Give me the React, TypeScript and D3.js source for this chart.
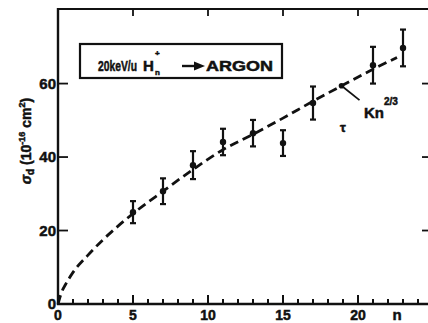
import * as d3 from "d3";

// ── Data ──────────────────────────────────────────────────────
const N_VALUES = [5, 7, 9, 11, 13, 15, 17, 21, 23];
const SIGMA = [25, 30.7, 37.8, 44.1, 46.5, 43.8, 54.7, 65, 69.7];
const SIGMA_ERR = [3, 3.5, 3.8, 3.6, 3.6, 3.5, 4.5, 5, 5];

// dashed Kn^(2/3) curve
const CURVE_N = [0, 0.25, 0.5, 1, 2, 3, 4, 5, 7, 9, 11, 13, 15, 17, 19, 21, 22.6];
const CURVE_S = [0, 3.3, 5.3, 8.6, 13.3, 17.5, 21.2, 24.6, 30.7, 36.6, 42, 46.2, 50.6, 55.2, 59.6, 63.9, 67.1];

const X_MAJOR = [0, 5, 10, 15, 20];
const X_MINOR = d3.range(1, 25);
const Y_TICKS = [0, 20, 40, 60];

// ── Geometry ──────────────────────────────────────────────────
const W = 428;
const H = 323;
const INK = "#111";
const FONT = "'Liberation Sans', Arial, sans-serif";
const BOLD = { fontWeight: "bold" as const, fill: INK, stroke: INK, strokeWidth: 0.5 };

export default function App() {
  const x = d3.scaleLinear().domain([0, 24.8]).range([58, 430]);
  const y = d3.scaleLinear().domain([0, 80.3]).range([304, 9]);

  const curve = d3
    .line<number>()
    .x((d) => x(d))
    .y((_, i) => y(CURVE_S[i]))
    .curve(d3.curveMonotoneX);

  const x0 = x(0);
  const y0 = y(0);
  const yTop = y(80.3);

  return (
    <svg
      width={W}
      height={H}
      style={{ position: "absolute", left: 0, top: 0, background: "#fff" }}
      fontFamily={FONT}
    >
      {/* frame */}
      <line x1={x0} x2={x0} y1={y0 + 1} y2={yTop - 1} stroke={INK} strokeWidth={2.4} />
      <line x1={x0 - 1} x2={W + 4} y1={y0} y2={y0} stroke={INK} strokeWidth={2.4} />
      <line x1={x0 - 1} x2={W + 4} y1={yTop} y2={yTop} stroke={INK} strokeWidth={2.2} />

      {/* bottom ticks */}
      {X_MINOR.map((t) => (
        <line key={`mn-${t}`} x1={x(t)} x2={x(t)} y1={y0} y2={y0 - (t % 5 === 0 ? 9 : 5)}
          stroke={INK} strokeWidth={2} />
      ))}
      {/* top ticks */}
      {X_MAJOR.filter((t) => t > 0).map((t) => (
        <line key={`tt-${t}`} x1={x(t)} x2={x(t)} y1={yTop} y2={yTop + 7} stroke={INK} strokeWidth={1.8} />
      ))}
      {/* left + right ticks */}
      {Y_TICKS.filter((t) => t > 0).map((t) => (
        <g key={`yt-${t}`}>
          <line x1={x0} x2={x0 + 10} y1={y(t)} y2={y(t)} stroke={INK} strokeWidth={1.8} />
          <line x1={W - 6} x2={W} y1={y(t)} y2={y(t)} stroke={INK} strokeWidth={1.8} />
        </g>
      ))}

      {/* tick labels */}
      {X_MAJOR.map((t) => (
        <text key={`xl-${t}`} x={x(t)} y={y0 + 16} textAnchor="middle" fontSize={14} {...BOLD}>{t}</text>
      ))}
      <text x={x(22.6)} y={y0 + 16} textAnchor="middle" fontSize={15} {...BOLD}>n</text>
      {Y_TICKS.map((t) => (
        <text key={`yl-${t}`} x={x0 - 2} y={y(t) + 5} textAnchor="end" fontSize={15} {...BOLD}>{t}</text>
      ))}

      {/* y axis title */}
      <text transform={`translate(31, 141) rotate(-90)`} textAnchor="middle" fontSize={14} {...BOLD}>
        <tspan fontStyle="italic">σ</tspan>
        <tspan fontSize={10} dy={3}>d</tspan>
        <tspan dy={-3}> (10</tspan>
        <tspan fontSize={9} dy={-6}>-16</tspan>
        <tspan dy={6}> cm</tspan>
        <tspan fontSize={9} dy={-6}>2</tspan>
        <tspan dy={6}>)</tspan>
      </text>

      {/* label box */}
      <rect x={80} y={44} width={202} height={34} fill="none" stroke={INK} strokeWidth={2.2} />
      <g {...BOLD}>
        <text x={98} y={71} fontSize={15} textLength={39} lengthAdjust="spacingAndGlyphs">20keV/u</text>
        <text x={143} y={71} fontSize={15}>H</text>
        <text x={155} y={75} fontSize={8}>n</text>
        <text x={155} y={56} fontSize={8}>+</text>
      </g>
      <line x1={182} x2={196} y1={66} y2={66} stroke={INK} strokeWidth={2.4} />
      <path d="M194,61.5 L205,66 L194,70.5 Z" fill={INK} />
      <text x={206} y={71} fontSize={15} textLength={67} lengthAdjust="spacingAndGlyphs" {...BOLD}>ARGON</text>

      {/* Kn^(2/3) curve */}
      <path d={curve(CURVE_N) ?? ""} fill="none" stroke={INK} strokeWidth={2.8}
        strokeDasharray="9,5" />

      {/* data with error bars */}
      {N_VALUES.map((n, i) => {
        const cx = x(n);
        const lo = y(SIGMA[i] - SIGMA_ERR[i]);
        const hi = y(SIGMA[i] + SIGMA_ERR[i]);
        return (
          <g key={`pt-${n}`} stroke={INK} strokeWidth={2.2}>
            <line x1={cx} x2={cx} y1={lo} y2={hi} />
            <line x1={cx - 3} x2={cx + 3} y1={lo} y2={lo} />
            <line x1={cx - 3} x2={cx + 3} y1={hi} y2={hi} />
            <circle cx={cx} cy={y(SIGMA[i])} r={3.2} fill={INK} stroke="none" />
          </g>
        );
      })}

      {/* annotation */}
      <circle cx={x(18.9)} cy={y(59.4)} r={2.8} fill={INK} />
      <line x1={x(18.9)} y1={y(59.4)} x2={x(20.1)} y2={y(55.5)} stroke={INK} strokeWidth={1.8} />
      <text x={364} y={118} fontSize={15} textLength={20} lengthAdjust="spacingAndGlyphs" {...BOLD}>Kn</text>
      <text x={384} y={105} fontSize={10} {...BOLD}>2/3</text>
      <text x={340} y={132} fontSize={13} {...BOLD}>τ</text>
    </svg>
  );
}
